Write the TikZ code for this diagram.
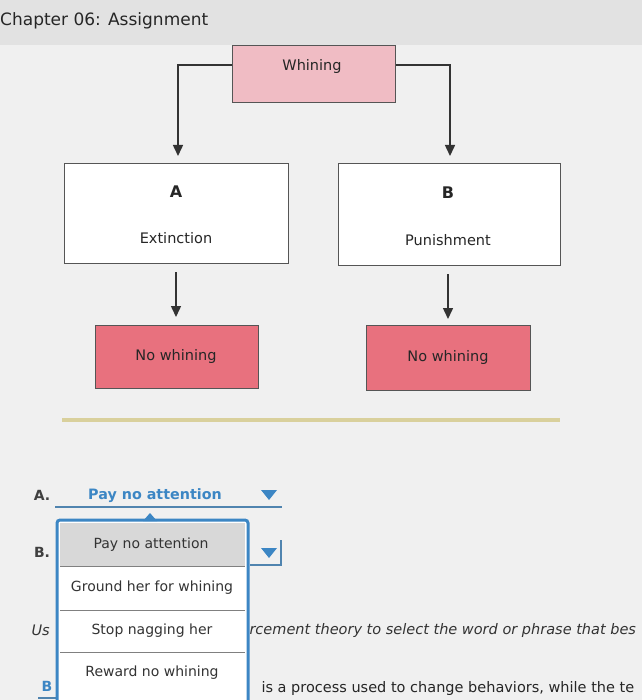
\documentclass[tikz,border=0pt]{standalone}
\usepackage{fontspec}
\setmainfont{DejaVu Sans}
\usetikzlibrary{arrows.meta,calc}
\definecolor{bg}{HTML}{F0F0F0}
\definecolor{topbar}{HTML}{E2E2E2}
\definecolor{lpink}{HTML}{F0BCC4}
\definecolor{dpink}{HTML}{E8717E}
\definecolor{bord}{HTML}{555555}
\definecolor{blu}{HTML}{3C86C4}
\definecolor{tan}{HTML}{D9D09C}
\definecolor{hl}{HTML}{D8D8D8}
\tikzset{
  box/.style={draw=bord, line width=1.2pt, anchor=north west, inner sep=0pt},
  arr/.style={-{Triangle[length=11pt,width=10pt]}, line width=1.5pt, draw=black!80},
  txt/.style={font=\fontsize{14.5}{16}\selectfont, text=black!85},
  item/.style={font=\fontsize{14}{16}\selectfont, text=black!80},
  lab/.style={font=\bfseries\fontsize{14}{16}\selectfont, text=black!75},
  ital/.style={font=\itshape\fontsize{14.5}{16}\selectfont, text=black!80, anchor=west},
}
\begin{document}
\begin{tikzpicture}[x=1pt,y=-1pt]
\useasboundingbox (0,0) rectangle (642,700);
\fill[bg] (0,0) rectangle (642,700);
\fill[topbar] (0,0) rectangle (642,45);
\node[anchor=west, font=\fontsize{17}{19}\selectfont, text=black!85, inner sep=0pt] (title) at (0,21) {Chapter 06: Assignment};
% top box
\node[box, fill=lpink, minimum width=163pt, minimum height=57pt] (wh) at (232,45) {};
\node[txt] (wht) at (312,67) {Whining};
% boxes A, B
\node[box, fill=white, minimum width=224pt, minimum height=100pt] (ba) at (64,163) {};
\node[txt, font=\bfseries\fontsize{16}{18}\selectfont] (la) at (176,192) {A};
\node[txt] (ea) at (176,238) {Extinction};
\node[box, fill=white, minimum width=222pt, minimum height=102pt] (bb) at (338,163) {};
\node[txt, font=\bfseries\fontsize{16}{18}\selectfont] (lb) at (448,193) {B};
\node[txt] (eb) at (448,240) {Punishment};
\coordinate (cl) at (178,65);
\coordinate (cr) at (450,65);
\coordinate (al) at (178,156);
\coordinate (ar) at (450,156);
\draw[arr] (wh.west |- cl) -- (cl) -- (al);
\draw[arr] (wh.east |- cr) -- (cr) -- (ar);
% no whining boxes
\node[box, fill=dpink, minimum width=163pt, minimum height=63pt] (na) at (95,325) {};
\node[txt] (nat) at (176,356) {No whining};
\node[box, fill=dpink, minimum width=164pt, minimum height=65pt] (nb) at (366,325) {};
\node[txt] (nbt) at (448,357) {No whining};
\coordinate (da) at (176,272);
\coordinate (db) at (448,274);
\draw[arr] (da) -- ($(da)+(0,45)$);
\draw[arr] (db) -- ($(db)+(0,45)$);
% separator
\draw[tan, line width=4pt] (62,420) -- (560,420);
% answer A
\node[lab] (qa) at (42,495) {A.};
\node[font=\bfseries\fontsize{14.3}{16}\selectfont, text=blu] (pa) at (155,496) {Pay no attention};
\draw[blu!70!gray, line width=1.5pt] (55,507) -- (282,507);
\fill[blu] (261,490) -- (277,490) -- (269,500) -- cycle;
% answer B
\node[lab] (qb) at (42,552) {B.};
\draw[blu!70!gray, line width=1.5pt] (250,565) -- (282,565);
\draw[blu!70!gray, line width=1.2pt] (281,540) -- (281,565);
\fill[blu] (261,548) -- (277,548) -- (269,558) -- cycle;
% texts under dropdown
\node[ital] (us) at (28,630) {Us};
\node[ital] (rc) at (246,630) {rcement theory to select the word or phrase that bes};
\node[anchor=west, font=\fontsize{14.5}{16}\selectfont, text=black!85] (ip) at (258,688) {is a process used to change behaviors, while the te};
\draw[blu!70!gray, line width=1.5pt] (38,698) -- (60,698);
\node[font=\bfseries\fontsize{14}{16}\selectfont, text=blu, anchor=west] (bx) at (38,686) {B};
% dropdown list
\fill[white] (57,520) rectangle (248,700);
\fill[hl] (60,523) rectangle (245,566);
\draw[blu, line width=3pt, rounded corners=3pt] (57,702) -- (57,520) -- (248,520) -- (248,702);
\fill[blu] (143,521) -- (150,513) -- (157,521) -- cycle;
\draw[gray, line width=0.8pt] (60,566) -- (245,566);
\draw[gray, line width=0.8pt] (60,610) -- (245,610);
\draw[gray, line width=0.8pt] (60,652) -- (245,652);
\node[item] (i1) at (151,545) {Pay no attention};
\node[item] (i2) at (152,588) {Ground her for whining};
\node[item] (i3) at (152,631) {Stop nagging her};
\node[item] (i4) at (152,673) {Reward no whining};
\end{tikzpicture}
\end{document}
